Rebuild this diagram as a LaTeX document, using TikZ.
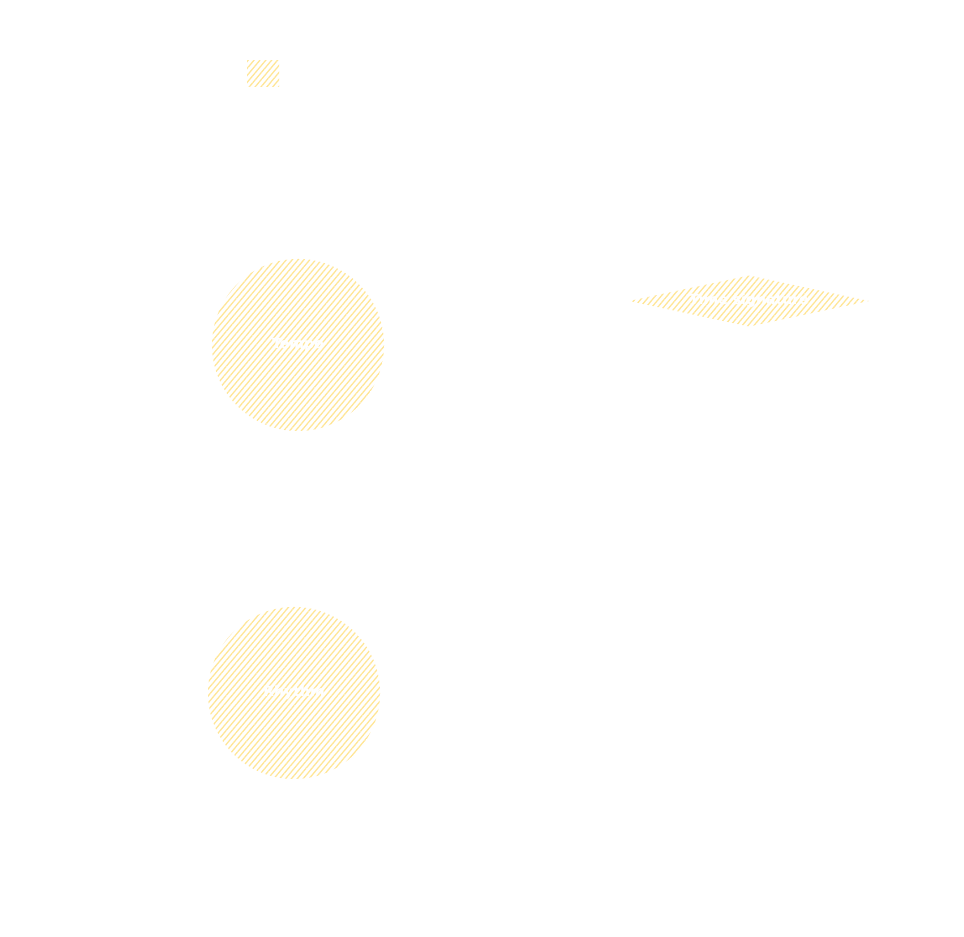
\documentclass[tikz,border=0pt]{standalone}
\usepackage{fontspec}
\setsansfont{DejaVu Sans}
\usetikzlibrary{shapes.geometric,patterns.meta}
\definecolor{hatchyellow}{RGB}{255,230,150}
\tikzset{
  hatched/.style={draw=none,pattern={Lines[angle=50,distance=3.2pt,line width=0.9pt]},
    pattern color=hatchyellow,text=white,font=\sffamily\bfseries,inner sep=0pt},
  roundbox/.style={hatched,circle,minimum size=4.3cm},
  tagbox/.style={hatched,rectangle,minimum width=0.8cm,minimum height=0.65cm},
  choicebox/.style={hatched,diamond,aspect=4.7,minimum width=6cm,minimum height=1.28cm}
}
\begin{document}
\begin{tikzpicture}[x=0.025cm,y=-0.025cm]
  \path[use as bounding box,fill=white] (0,0) rectangle (964,937);

  \node[tagbox] (tag) at (263,74) {};
  \node[roundbox] (tempo) at (298,345) {Tempo};
  \node[choicebox] (choice) at (749,301) {Time signature};
  \node[roundbox] (rhythm) at (294,693) {Rhythm};
\end{tikzpicture}
\end{document}
